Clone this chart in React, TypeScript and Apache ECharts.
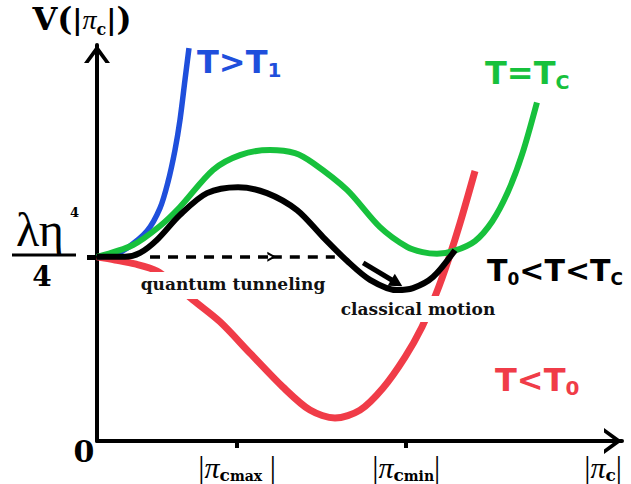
import React, { useEffect, useRef } from "react";
import * as echarts from "echarts";

// Axis ranges (arbitrary units)
const xMax = 10;
const yMax = 10;

// Potential level λη⁴/4 where every curve starts
const V0 = 4.65;
// Special field values marked on the x axis
const piCmax = 2.67;
const piCmin = 5.89;

// T > T1
const curveHighT = [
  [0, 4.65], [0.305, 4.7], [0.571, 4.87], [0.952, 5.3], [1.2, 5.88],
  [1.352, 6.54], [1.486, 7.35], [1.581, 8.11], [1.676, 9.12], [1.752, 9.92],
];
// T = Tc
const curveCritical = [
  [0, 4.65], [0.686, 4.95], [1.2, 5.43], [1.581, 5.91], [2.21, 6.845],
  [2.724, 7.22], [3.295, 7.35], [3.771, 7.27], [4.114, 7.02], [4.762, 6.34],
  [5.39, 5.4], [5.905, 4.9], [6.2, 4.77], [6.476, 4.73], [6.8, 4.8],
  [7.2, 5.05], [7.53, 5.55], [7.83, 6.3], [8.1, 7.25], [8.38, 8.55],
];
// T0 < T < Tc
const curveIntermediate = [
  [0, 4.65], [0.533, 4.65], [0.819, 4.75], [1.143, 5.08], [1.581, 5.71],
  [2.095, 6.26], [2.686, 6.41], [3.238, 6.26], [3.81, 5.83], [4.305, 5.15],
  [4.762, 4.55], [5.2, 4.07], [5.714, 3.81], [6.019, 3.86], [6.4, 4.14],
  [6.819, 4.82],
];
// T < T0
const curveLowT = [
  [0, 4.65], [0.343, 4.57], [0.724, 4.47], [1.143, 4.29], [1.486, 3.94],
  [1.829, 3.56], [2.343, 3.01], [2.914, 2.22], [3.543, 1.36], [4.057, 0.78],
  [4.533, 0.58], [5.01, 0.78], [5.448, 1.34], [5.867, 2.12], [6.19, 2.88],
  [6.457, 3.71], [6.686, 4.55], [6.914, 5.5], [7.2, 6.82],
];
// Dashed tunneling path: start, arrow head, end
const tunnelingPath = [[1.01, 4.65], [3.33, 4.65], [4.53, 4.65]];
// Classical motion arrow: start, end
const classicalPath = [[5.07, 4.5], [5.71, 3.99]];

const xTickValues = [piCmax, piCmin];
const xLabelValues = [piCmax, piCmin, xMax];
const yTickValues = [V0];

const BLUE = "#1f4fdc";
const GREEN = "#17c13c";
const RED = "#f03c48";
const BLACK = "#000000";

const AXIS_ARROW = "path://M0,18L13,0L26,18L21.5,18L13,6.5L4.5,18Z";
const SMALL_CHEVRON = "path://M0,10L5,0L10,10L7.6,10L5,4.6L2.4,10Z";

const piRich = {
  bar: { fontFamily: "Liberation Serif", fontSize: 31, color: BLACK, lineHeight: 32 },
  pi: { fontFamily: "Liberation Serif", fontStyle: "italic", fontSize: 30, color: BLACK, lineHeight: 32 },
  sub: { fontFamily: "DejaVu Serif", fontWeight: "bold", fontSize: 17, color: BLACK, lineHeight: 22, verticalAlign: "bottom" },
  subs: { fontFamily: "DejaVu Serif", fontWeight: "bold", fontSize: 14, color: BLACK, lineHeight: 20, verticalAlign: "bottom" },
};

function xLabel(v: number): string {
  if (Math.abs(v - piCmax) < 1e-6) return "{bar||}{pi|π}{sub|c}{subs|max}{bar| |}";
  if (Math.abs(v - piCmin) < 1e-6) return "{bar||}{pi|π}{sub|c}{subs|min}{bar||}";
  if (Math.abs(v - xMax) < 1e-6) return "{bar||}{pi|π}{sub|c}{bar||}";
  return "";
}

const tStyle = (color: string, size = 32, subSize = 20) => ({
  m: { fontFamily: "DejaVu Sans", fontWeight: "bold", fontSize: size, fill: color, lineHeight: size + 4 },
  s: { fontFamily: "DejaVu Sans", fontWeight: "bold", fontSize: subSize, fill: color, lineHeight: subSize + 2, verticalAlign: "bottom" },
});

export default function App() {
  const ref = useRef<HTMLDivElement>(null);

  useEffect(() => {
    if (!ref.current) return;
    const chart = echarts.init(ref.current, null, { renderer: "svg" });

    const lineSeries = (name: string, data: number[][], color: string, width: number, z: number) => ({
      type: "line",
      name,
      data,
      smooth: 0.3,
      showSymbol: false,
      symbol: "none",
      silent: true,
      z,
      lineStyle: { color, width },
      emphasis: { disabled: true },
    });

    const option: any = {
      animation: false,
      backgroundColor: "#ffffff",
      grid: { left: 97, right: 9, top: 45, bottom: 43, containLabel: false },
      xAxis: {
        type: "value",
        min: 0,
        max: xMax,
        splitLine: { show: false },
        axisLine: {
          onZero: false,
          lineStyle: { color: BLACK, width: 4 },
          symbol: ["none", AXIS_ARROW],
          symbolSize: [26, 18],
          symbolOffset: [0, -9],
        },
        axisTick: {
          show: true,
          customValues: xTickValues,
          length: 7,
          lineStyle: { color: BLACK, width: 4 },
        },
        axisLabel: {
          show: true,
          customValues: xLabelValues,
          margin: 10,
          alignMaxLabel: "right",
          formatter: (v: number) => xLabel(v),
          rich: piRich,
        },
      },
      yAxis: {
        type: "value",
        min: 0,
        max: yMax,
        splitLine: { show: false },
        name: "{V|V}{par|(}{bar||}{pi|π}{sub|c}{bar||}{par|)}",
        nameLocation: "end",
        nameGap: 8,
        nameTextStyle: {
          padding: [0, 30, 0, 0],
          rich: {
            V: { fontFamily: "DejaVu Serif", fontWeight: "bold", fontSize: 32, color: BLACK, lineHeight: 36 },
            par: { fontFamily: "DejaVu Serif", fontWeight: "bold", fontSize: 32, color: BLACK, lineHeight: 36 },
            bar: { fontFamily: "DejaVu Serif", fontWeight: "bold", fontSize: 28, color: BLACK, lineHeight: 36 },
            pi: { fontFamily: "Liberation Serif", fontStyle: "italic", fontSize: 28, color: BLACK, lineHeight: 36 },
            sub: { fontFamily: "DejaVu Serif", fontWeight: "bold", fontSize: 16, color: BLACK, lineHeight: 26, verticalAlign: "bottom" },
          },
        },
        axisLine: {
          onZero: false,
          lineStyle: { color: BLACK, width: 4 },
          symbol: ["none", AXIS_ARROW],
          symbolSize: [26, 18],
          symbolOffset: [0, -9],
        },
        axisTick: {
          show: true,
          customValues: yTickValues,
          length: 10,
          lineStyle: { color: BLACK, width: 5 },
        },
        axisLabel: { show: false },
      },
      series: [
        lineSeries("T<T0", curveLowT, RED, 7, 2),
        lineSeries("T>T1", curveHighT, BLUE, 5.5, 3),
        lineSeries("T=Tc", curveCritical, GREEN, 6, 4),
        {
          ...lineSeries("T0<T<Tc", curveIntermediate, BLACK, 6, 5),
          markLine: {
            silent: true,
            animation: false,
            label: { show: false },
            emphasis: { disabled: true },
            lineStyle: { color: BLACK, width: 3.5, type: [10, 8] },
            data: [
              [
                { coord: tunnelingPath[0], symbol: "none" },
                { coord: tunnelingPath[1], symbol: SMALL_CHEVRON, symbolSize: [10, 9] },
              ],
              [
                { coord: tunnelingPath[1], symbol: "none" },
                { coord: tunnelingPath[2], symbol: "none" },
              ],
              [
                { coord: classicalPath[0], symbol: "none", lineStyle: { type: "solid", width: 5, color: BLACK } },
                { coord: classicalPath[1], symbol: "triangle", symbolSize: [14, 13] },
              ],
            ],
          },
        },
      ],
      graphic: {
        elements: [
          // white knock-out boxes behind the annotation texts
          { type: "rect", z: 99, silent: true, shape: { x: 135, y: 272, width: 198, height: 27 }, style: { fill: "#ffffff" } },
          { type: "rect", z: 99, silent: true, shape: { x: 336, y: 296, width: 164, height: 26 }, style: { fill: "#ffffff" } },
          // curve labels
          { type: "text", z: 100, x: 197, y: 62, style: { text: "{m|T>T}{s|1}", rich: tStyle(BLUE), verticalAlign: "middle", align: "left" } },
          { type: "text", z: 100, x: 485, y: 73, style: { text: "{m|T=T}{s|C}", rich: tStyle(GREEN, 32, 19), verticalAlign: "middle", align: "left" } },
          { type: "text", z: 100, x: 487, y: 270, style: { text: "{m|T}{s|0}{m|<T<T}{s|C}", rich: tStyle(BLACK, 30, 17), verticalAlign: "middle", align: "left" } },
          { type: "text", z: 100, x: 495, y: 380, style: { text: "{m|T<T}{s|0}", rich: tStyle(RED), verticalAlign: "middle", align: "left" } },
          // annotations
          {
            type: "text", z: 100, x: 233, y: 284,
            style: { text: "quantum tunneling", font: 'bold 17px "DejaVu Serif"', fill: "#111111", align: "center", verticalAlign: "middle" },
          },
          {
            type: "text", z: 100, x: 418, y: 309,
            style: { text: "classical motion", font: 'bold 17px "DejaVu Serif"', fill: "#111111", align: "center", verticalAlign: "middle" },
          },
          // origin label
          { type: "text", z: 100, x: 84, y: 451, style: { text: "0", font: 'bold 30px "DejaVu Serif"', fill: BLACK, align: "center", verticalAlign: "middle" } },
          // λη⁴ / 4 level label
          { type: "text", z: 100, x: 16, y: 229, style: { text: "λη", font: '48px "Liberation Serif"', fill: BLACK, align: "left", verticalAlign: "middle" } },
          { type: "text", z: 100, x: 70, y: 212, style: { text: "4", font: 'bold 13px "DejaVu Serif"', fill: BLACK, align: "left", verticalAlign: "middle" } },
          { type: "line", z: 100, shape: { x1: 12, y1: 255, x2: 76, y2: 255 }, style: { stroke: BLACK, lineWidth: 3 } },
          { type: "text", z: 100, x: 42, y: 276, style: { text: "4", font: 'bold 28px "DejaVu Serif"', fill: BLACK, align: "center", verticalAlign: "middle" } },
        ],
      },
    };

    chart.setOption(option);
    return () => chart.dispose();
  }, []);

  return <div ref={ref} style={{ width: 631, height: 484, position: "absolute", left: 0, top: 0 }} />;
}
